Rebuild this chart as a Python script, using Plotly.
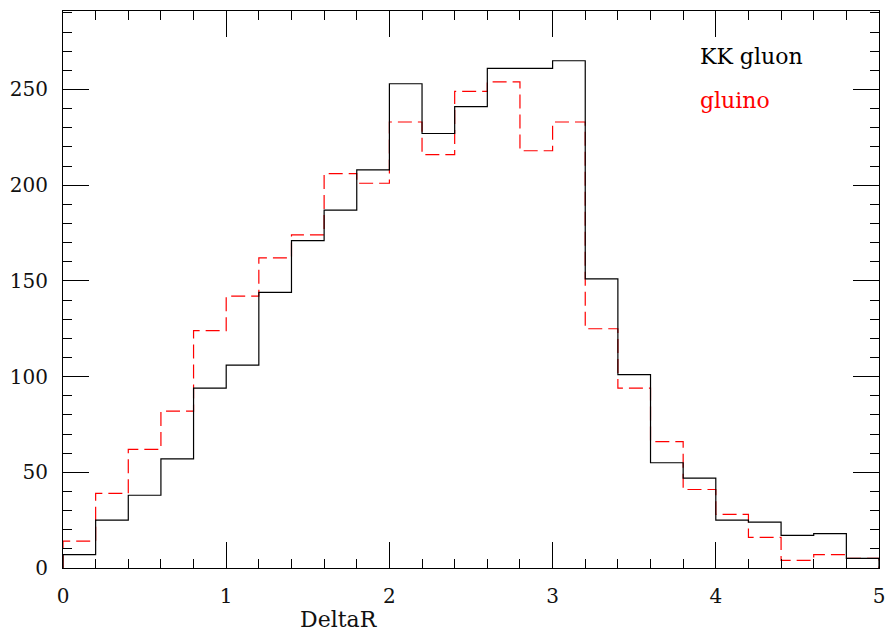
import numpy as np
import plotly.graph_objects as go

# DeltaR histogram, 25 bins of width 0.2 from 0 to 5
bin_edges = [round(0.2 * i, 1) for i in range(26)]

kk_gluon = [7, 25, 38, 57, 94, 106, 144, 171, 187, 208,
            253, 227, 241, 261, 261, 265, 151, 101, 55, 47,
            25, 24, 17, 18, 5]

gluino = [14, 39, 62, 82, 124, 142, 162, 174, 206, 201,
          233, 216, 249, 254, 218, 233, 125, 94, 66, 41,
          28, 16, 4, 7, 5]

x_ticks = [0, 1, 2, 3, 4, 5]
y_ticks = [0, 50, 100, 150, 200, 250]

FONT = "DejaVu Serif"


def step_path(edges, counts):
    """Outline of a histogram: rises from zero at the first edge, falls to zero at the last."""
    xs = [edges[0]] + list(edges) + [edges[-1]]
    ys = [0] + list(counts) + [counts[-1], 0]
    ys = ys[:len(xs)]
    return xs, ys


fig = go.Figure()

gx, gy = step_path(bin_edges, gluino)
fig.add_trace(go.Scatter(
    x=gx, y=gy, mode="lines", line_shape="hv",
    line=dict(color="#ff0000", width=1.2, dash="14px,6px"),
    name="gluino", showlegend=False, hoverinfo="skip",
))

kx, ky = step_path(bin_edges, kk_gluon)
fig.add_trace(go.Scatter(
    x=kx, y=ky, mode="lines", line_shape="hv",
    line=dict(color="#000000", width=1.2),
    name="KK gluon", showlegend=False, hoverinfo="skip",
))

axis_common = dict(
    showgrid=False, zeroline=False,
    showline=True, linecolor="#000000", linewidth=1.2,
    mirror="ticks", ticks="inside", ticklen=26, tickwidth=1,
    tickcolor="#000000", automargin=False,
    tickfont=dict(family=FONT, size=20, color="#111111"),
)

fig.update_xaxes(
    range=[0, 5], tickvals=x_ticks, ticktext=[str(v) for v in x_ticks],
    minor=dict(dtick=0.2, ticks="inside", ticklen=9, tickwidth=1, tickcolor="#000000"),
    ticklabelstandoff=10,
    **axis_common,
)
fig.update_yaxes(
    range=[0, 291], tickvals=y_ticks, ticktext=[str(v) for v in y_ticks],
    minor=dict(dtick=10, ticks="inside", ticklen=9, tickwidth=1, tickcolor="#000000"),
    ticklabelstandoff=10,
    **axis_common,
)

fig.add_annotation(
    text="KK gluon", x=0.778, y=0.918, xref="paper", yref="paper",
    xanchor="left", yanchor="middle", showarrow=False,
    font=dict(family=FONT, size=22, color="#000000"),
)
fig.add_annotation(
    text="gluino", x=0.778, y=0.84, xref="paper", yref="paper",
    xanchor="left", yanchor="middle", showarrow=False,
    font=dict(family=FONT, size=22, color="#ff0000"),
)
fig.add_annotation(
    text="DeltaR", x=1.44, y=-0.093, xref="x", yref="paper",
    xanchor="left", yanchor="middle", showarrow=False,
    font=dict(family=FONT, size=22, color="#111111"),
)

fig.update_layout(
    width=886, height=632,
    margin=dict(l=63, r=7, t=11, b=64, autoexpand=False),
    paper_bgcolor="white", plot_bgcolor="white",
)

fig.write_html("out.html")
